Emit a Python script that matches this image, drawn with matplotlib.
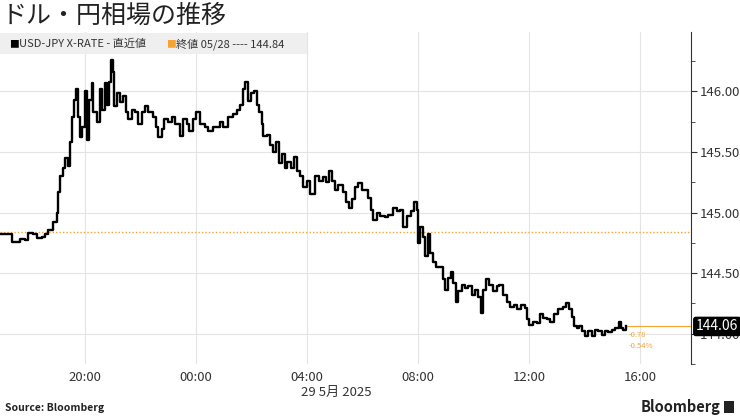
import pandas as pd
import matplotlib
matplotlib.use('Agg')
import matplotlib.pyplot as plt
import matplotlib.dates as mdates
from matplotlib.ticker import MultipleLocator, FormatStrFormatter
from matplotlib.patches import Rectangle

plt.rcParams['font.family'] = ['Noto Sans CJK JP', 'DejaVu Sans']

title = 'ドル・円相場の推移'
series_name = 'USD-JPY X-RATE - 直近値'
ref_name = '終値 05/28 ---- 144.84'
date_label = '29 5月 2025'
ref_close = 144.84
last_value = 144.06
change = '-0.78'
change_pct = '-0.54%'

# 28 May 16:57 -> 29 May 15:30 (JST)
times = ['16:57', '17:22', '17:40', '17:50', '17:57', '18:08', '18:16', '18:27', '18:34', '18:40',
         '18:51', '19:00', '19:02', '19:06', '19:12', '19:17', '19:23', '19:28', '19:32', '19:36',
         '19:41', '19:45', '19:49', '19:54', '20:00', '20:04', '20:09', '20:15', '20:17', '20:26',
         '20:32', '20:37', '20:43', '20:48', '20:52', '20:56', '21:00', '21:03', '21:09', '21:16',
         '21:22', '21:29', '21:33', '21:42', '21:48', '21:55', '22:03', '22:10', '22:16', '22:27',
         '22:34', '22:38', '22:46', '22:51', '22:59', '23:08', '23:15', '23:25', '23:32', '23:40',
         '23:45', '23:53', '00:00', '00:09', '00:19', '00:26', '00:37', '00:52', '00:58', '01:09',
         '01:20', '01:29', '01:35', '01:42', '01:46', '01:52', '01:59', '02:05', '02:12', '02:16',
         '02:23', '02:25', '02:33', '02:40', '02:46', '02:53', '02:59', '03:06', '03:12', '03:17',
         '03:25', '03:32', '03:38', '03:45', '03:51', '04:00', '04:06', '04:17', '04:26', '04:35',
         '04:41', '04:48', '04:54', '05:00', '05:07', '05:18', '05:24', '05:31', '05:37', '05:44',
         '05:50', '05:59', '06:05', '06:12', '06:18', '06:23', '06:31', '06:38', '06:49', '06:55',
         '07:06', '07:15', '07:21', '07:28', '07:36', '07:45', '07:51', '07:58', '08:00', '08:04',
         '08:11', '08:15', '08:22', '08:26', '08:32', '08:39', '08:48', '08:54', '08:58', '09:05',
         '09:11', '09:16', '09:22', '09:26', '09:35', '09:42', '09:48', '09:57', '10:03', '10:10',
         '10:16', '10:21', '10:27', '10:33', '10:42', '10:51', '10:55', '11:04', '11:12', '11:19',
         '11:28', '11:34', '11:43', '11:51', '11:56', '12:00', '12:09', '12:17', '12:24', '12:30',
         '12:39', '12:45', '12:54', '13:03', '13:13', '13:20', '13:26', '13:33', '13:37', '13:44',
         '13:48', '13:55', '14:01', '14:07', '14:16', '14:23', '14:29', '14:38', '14:44', '14:51',
         '14:59', '15:06', '15:14', '15:19', '15:23', '15:30']
prices = [144.82, 144.76, 144.78, 144.77, 144.83, 144.82, 144.79, 144.80, 144.82, 144.86,
          144.92, 145.00, 145.17, 145.30, 145.37, 145.45, 145.38, 145.58, 145.79, 145.93,
          146.02, 145.79, 145.62, 145.71, 146.00, 145.60, 145.93, 146.07, 145.83, 145.75,
          146.02, 145.85, 146.07, 145.89, 146.08, 146.26, 146.16, 145.88, 145.99, 145.91,
          145.96, 145.83, 145.77, 145.85, 145.83, 145.73, 145.83, 145.88, 145.83, 145.79,
          145.71, 145.62, 145.69, 145.77, 145.75, 145.79, 145.73, 145.63, 145.77, 145.73,
          145.67, 145.77, 145.83, 145.73, 145.71, 145.67, 145.71, 145.75, 145.71, 145.79,
          145.81, 145.85, 145.89, 146.02, 146.08, 145.92, 145.99, 146.00, 145.89, 145.83,
          145.73, 145.63, 145.64, 145.56, 145.50, 145.58, 145.41, 145.48, 145.37, 145.42,
          145.37, 145.46, 145.34, 145.30, 145.21, 145.26, 145.15, 145.30, 145.26, 145.29,
          145.25, 145.34, 145.26, 145.19, 145.23, 145.17, 145.09, 145.04, 145.11, 145.21,
          145.24, 145.19, 145.19, 145.12, 145.02, 144.94, 145.00, 144.97, 144.96, 144.98,
          145.04, 145.01, 145.02, 144.88, 144.97, 145.01, 145.09, 145.02, 144.75, 144.88,
          144.80, 144.64, 144.82, 144.67, 144.59, 144.55, 144.55, 144.45, 144.36, 144.46,
          144.51, 144.42, 144.26, 144.35, 144.40, 144.38, 144.39, 144.32, 144.36, 144.30,
          144.17, 144.36, 144.45, 144.40, 144.35, 144.39, 144.40, 144.32, 144.26, 144.22,
          144.24, 144.20, 144.24, 144.21, 144.12, 144.07, 144.10, 144.09, 144.16, 144.13,
          144.12, 144.10, 144.16, 144.20, 144.22, 144.25, 144.20, 144.14, 144.06, 144.05,
          144.06, 144.02, 143.98, 144.02, 143.98, 144.03, 144.02, 143.99, 144.02, 144.01,
          144.03, 144.05, 144.10, 144.05, 144.03, 144.06]

# turn HH:MM into timestamps, rolling over to the next day after midnight
stamps = []
day = pd.Timestamp('2025-05-28')
prev_h = None
for t in times:
    h, m = int(t[:2]), int(t[3:])
    if prev_h is not None and h < prev_h:
        day += pd.Timedelta(days=1)
    prev_h = h
    stamps.append(day + pd.Timedelta(hours=h, minutes=m))

orange = '#f5a431'
txt = '#333333'
x_left = pd.Timestamp('2025-05-28 16:56')
x_right = pd.Timestamp('2025-05-29 17:50')

fig = plt.figure(figsize=(7.4, 4.16), dpi=100)
fig.patch.set_facecolor('white')
ax = fig.add_axes([0, 1 - 364 / 416, 691 / 740, (364 - 32) / 416])
ax.patch.set_visible(False)

# legend band
fig.patches.append(Rectangle((0, 1 - 54 / 416), 307 / 740, 21 / 416,
                             transform=fig.transFigure, fc='#efefef', ec='none', zorder=0))
fig.text(9 / 740, 1 - 44 / 416, '■', color='black', fontsize=7, va='center')
fig.text(19 / 740, 1 - 44 / 416, series_name, color=txt, fontsize=8, va='center')
fig.text(166 / 740, 1 - 44 / 416, '■', color=orange, fontsize=7, va='center')
fig.text(176 / 740, 1 - 44 / 416, ref_name, color=txt, fontsize=8, va='center')

ax.step(stamps, prices, where='post', color='black', lw=1.7, zorder=3)
ax.axhline(ref_close, color=orange, ls=(0, (1, 1.5)), lw=1, zorder=2)
ax.plot([stamps[-1], x_right], [last_value, last_value], color=orange, lw=0.8, zorder=2)
ax.annotate(change, xy=(stamps[-1], last_value), xytext=(2, -6), textcoords='offset points',
            fontsize=5.5, color=orange, va='center')
ax.annotate(change_pct, xy=(stamps[-1], last_value), xytext=(2, -14), textcoords='offset points',
            fontsize=5.5, color=orange, va='center')
ax.annotate(f'{last_value:.2f}', xy=(1, last_value), xycoords=('axes fraction', 'data'),
            xytext=(3.5, 0), textcoords='offset points', ha='left', va='center',
            color='white', fontsize=10, zorder=10, annotation_clip=False,
            bbox=dict(boxstyle='round,pad=0.15', fc='black', ec='black'))

ax.set_xlim(x_left, x_right)
ax.set_ylim(143.75, 146.49)

ax.xaxis.set_major_locator(mdates.HourLocator(byhour=[0, 4, 8, 12, 16, 20]))
ax.xaxis.set_major_formatter(mdates.DateFormatter('%H:%M'))
ax.yaxis.tick_right()
ax.yaxis.set_major_locator(MultipleLocator(0.5))
ax.yaxis.set_minor_locator(MultipleLocator(0.25))
ax.yaxis.set_major_formatter(FormatStrFormatter('%.2f'))

ax.tick_params(axis='x', length=0, labelsize=9.5, pad=5, labelcolor=txt)
ax.tick_params(axis='y', which='major', direction='out', length=4, color=txt,
               labelsize=9.5, pad=2, labelcolor=txt)
ax.tick_params(axis='y', which='minor', direction='out', length=3, color=txt)

for s in ['left', 'top', 'bottom']:
    ax.spines[s].set_visible(False)
ax.spines['right'].set_color(txt)
ax.grid(True, which='major', color='#e4e4e4', lw=0.8)
ax.set_axisbelow(True)

fig.text(336 / 740, 1 - 392 / 416, date_label, ha='center', va='center', fontsize=9.5, color=txt)
fig.text(2 / 740, 1 - 16 / 416, title, fontsize=18, va='center', color='#222222')
fig.text(5 / 740, 1 - 408 / 416, 'Source: Bloomberg', fontsize=7.5, fontweight='bold',
         va='center', color='#222222')
fig.text(720 / 740, 1 - 407 / 416, 'Bloomberg', fontsize=10.5, fontweight='bold',
         ha='right', va='center', color='#222222')
fig.patches.append(Rectangle((724 / 740, 1 - 413 / 416), 10 / 740, 12 / 416,
                             transform=fig.transFigure, fc='#222222', ec='none'))

fig.savefig('out.png', dpi=100)
